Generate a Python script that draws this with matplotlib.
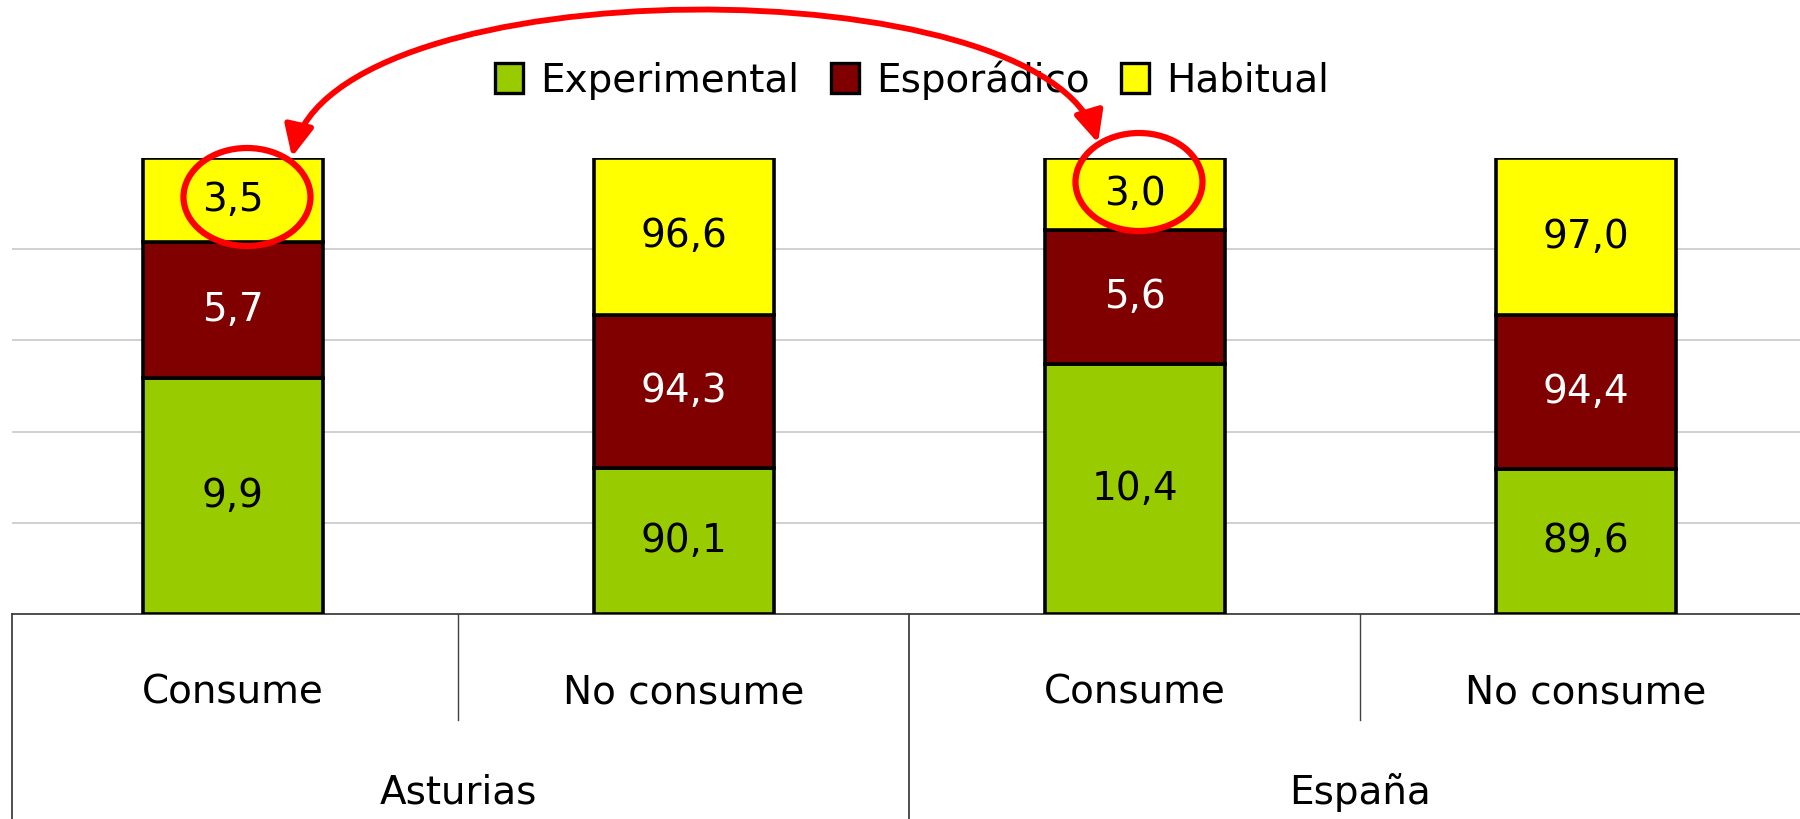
import numpy as np
import matplotlib.pyplot as plt
from matplotlib.patches import Ellipse, FancyArrowPatch, Patch
from matplotlib.path import Path

# Data (percent of each category)
groups = ['Asturias', 'España']
categories = ['Consume', 'No consume', 'Consume', 'No consume']
experimental = [9.9, 90.1, 10.4, 89.6]
esporadico = [5.7, 94.3, 5.6, 94.4]
habitual = [3.5, 96.6, 3.0, 97.0]

series_names = ['Experimental', 'Esporádico', 'Habitual']
colors = ['#99cc00', '#800000', '#ffff00']
text_colors = ['black', 'white', 'black']

W, H = 1800, 819
plt.rcParams['font.family'] = ['DejaVu Sans']


def fig_xy(x, y):
    # pixel coords (top-left origin) -> figure fraction
    return x / W, 1 - y / H


fig = plt.figure(figsize=(W / 100, H / 100), dpi=100)
base_px, top_px = 614, 158
ax = fig.add_axes([12 / W, (H - base_px) / H, 1804 / W, (base_px - top_px) / H])

data = np.array([experimental, esporadico, habitual])
pct = data / data.sum(axis=0) * 100
x = np.arange(len(categories))

bottom = np.zeros(len(categories))
for i in range(3):
    ax.bar(x, pct[i], 0.40, bottom=bottom, color=colors[i],
           edgecolor='black', linewidth=2.6, zorder=3)
    for j in range(len(categories)):
        ax.text(x[j], bottom[j] + pct[i][j] / 2,
                f"{data[i][j]:.1f}".replace('.', ','),
                ha='center', va='center', fontsize=28,
                color=text_colors[i], zorder=4)
    bottom += pct[i]

ax.set_xlim(-0.49, 3.51)
ax.set_ylim(0, 100)
ax.set_yticks([20, 40, 60, 80])
ax.yaxis.grid(True, color='#c8c8c8', linewidth=1.2, zorder=0)
ax.set_axisbelow(True)
ax.tick_params(left=False, bottom=False, labelleft=False, labelbottom=False)
for s in ax.spines.values():
    s.set_visible(False)

# multi-level category axis
axis_h = base_px - top_px
def yfrac(ypx):
    return (base_px - ypx) / axis_h

tr = ax.get_xaxis_transform()
ax.plot([-0.49, 3.6], [0, 0], transform=tr, color='#404040', lw=1.3, clip_on=False)
for xb in [-0.49, 1.5]:
    ax.plot([xb, xb], [0, yfrac(H + 5)], transform=tr, color='#404040', lw=1.3, clip_on=False)
for xb in [0.5, 2.5]:
    ax.plot([xb, xb], [0, yfrac(720)], transform=tr, color='#404040', lw=1.0, clip_on=False)

for j, c in enumerate(categories):
    ax.text(x[j], yfrac(692), c, transform=tr, ha='center', va='center', fontsize=28)
for g, name in enumerate(groups):
    ax.text(2 * g + 0.5, yfrac(793), name, transform=tr, ha='center', va='center', fontsize=28)

# legend
handles = [Patch(facecolor=colors[i], edgecolor='black', linewidth=2.4, label=series_names[i])
           for i in range(3)]
fig.legend(handles=handles, loc='center', bbox_to_anchor=fig_xy(912, 80), ncol=3,
           frameon=False, fontsize=28, handlelength=0.72, handleheight=0.8,
           handletextpad=0.45, columnspacing=0.8, borderpad=0)

# highlight circles
for cx, cy in [(247, 197), (1139, 182)]:
    fig.patches.append(Ellipse(fig_xy(cx, cy), 127 / W, 98 / H, transform=fig.transFigure,
                               fill=False, edgecolor='#ff0000', linewidth=4.5, zorder=5))

# curved double arrow
verts = [fig_xy(292, 157), fig_xy(335, -35), fig_xy(1045, -35), fig_xy(1098, 143)]
path = Path(verts, [Path.MOVETO, Path.CURVE4, Path.CURVE4, Path.CURVE4])
arrow = FancyArrowPatch(path=path, transform=fig.transFigure,
                        arrowstyle='<|-|>,head_length=0.85,head_width=0.4',
                        mutation_scale=22, color='#ff0000', linewidth=4.2, zorder=6)
fig.patches.append(arrow)

fig.savefig('out.png', dpi=100)
